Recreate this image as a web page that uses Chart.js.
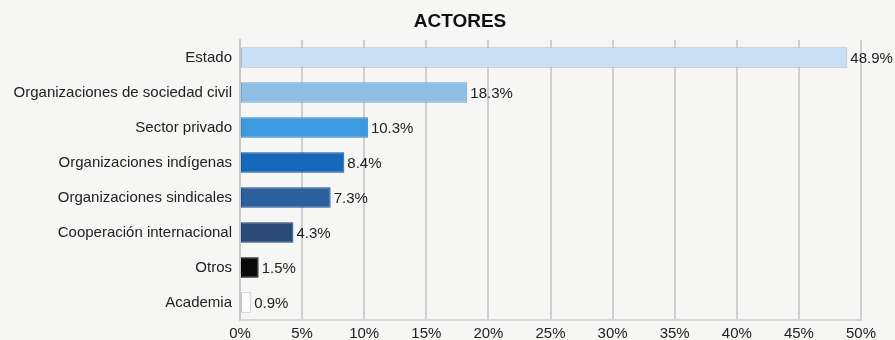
<!DOCTYPE html>
<html>
<head>
<meta charset="utf-8">
<script src="https://cdn.jsdelivr.net/npm/chart.js@4/dist/chart.umd.min.js"></script>
<style>
  html, body { margin: 0; padding: 0; background: #f6f6f5; }
  #wrap { width: 895px; height: 340px; }
</style>
</head>
<body>
<div id="wrap"><canvas id="barChart"></canvas></div>
<script>
  'use strict';

  var actores = ['Estado', 'Organizaciones de sociedad civil', 'Sector privado', 'Organizaciones indígenas',
                 'Organizaciones sindicales', 'Cooperación internacional', 'Otros', 'Academia']
  var porcentajes = [48.9, 18.3, 10.3, 8.4, 7.3, 4.3, 1.5, 0.9]
  var colores = ['#c8dff5', '#8ebde6', '#3c9be0', '#1669b8', '#2c5f9e', '#2a4a78', '#0a0a0a', '#ffffff']
  var bordes  = ['#a9b8c8', '#7aa3c8', '#3584bd', '#125a9c', '#254f84', '#223e64', '#000000', '#c4c4c4']
  var ticksX  = [0, 5, 10, 15, 20, 25, 30, 35, 40, 45, 50]
  var titulo  = 'ACTORES'

  var fontFam = '"Liberation Sans", Arial, sans-serif'

  // etiquetas de valor a la derecha de cada barra + titulo
  var valueLabels = {
    id: 'valueLabels',
    afterDatasetsDraw: function (chart) {
      var ctx = chart.ctx
      var meta = chart.getDatasetMeta(0)
      ctx.save()
      ctx.font = '15px ' + fontFam
      ctx.fillStyle = '#222'
      ctx.textBaseline = 'middle'
      ctx.textAlign = 'left'
      meta.data.forEach(function (bar, i) {
        ctx.fillText(porcentajes[i].toFixed(1) + '%', bar.x + 3, bar.y + 1)
      })
      ctx.font = 'bold 19px ' + fontFam
      ctx.fillStyle = '#111'
      ctx.textAlign = 'center'
      ctx.fillText(titulo, 460, 22)
      ctx.restore()
    }
  }

  Chart.defaults.font.family = fontFam
  Chart.defaults.font.size = 15
  Chart.defaults.color = '#222'

  var ctx = document.getElementById('barChart').getContext('2d')
  new Chart(ctx, {
    type: 'bar',
    data: {
      labels: actores,
      datasets: [{
        data: porcentajes,
        backgroundColor: colores,
        borderColor: bordes,
        borderWidth: 1,
        borderSkipped: false,
        barPercentage: 0.58,
        categoryPercentage: 1
      }]
    },
    options: {
      indexAxis: 'y',
      responsive: true,
      maintainAspectRatio: false,
      animation: false,
      layout: { padding: { left: 0, right: 34, top: 40, bottom: 0 } },
      plugins: {
        legend: { display: false },
        tooltip: { enabled: false },
        title: { display: false }
      },
      scales: {
        x: {
          min: 0,
          max: 50,
          afterBuildTicks: function (axis) {
            axis.ticks = ticksX.map(function (v) { return { value: v } })
          },
          afterFit: function (axis) { axis.height = 20 },
          ticks: {
            callback: function (v) { return v + '%' },
            color: '#222',
            padding: 5,
            maxRotation: 0
          },
          grid: { color: '#cfcfcf', lineWidth: 2, tickLength: 0 },
          border: { color: '#d6d6d6', width: 2 }
        },
        y: {
          afterFit: function (axis) { axis.width = 240 },
          ticks: { color: '#222', padding: 0 },
          grid: { display: false },
          border: { color: '#c8c8c8', width: 2 }
        }
      }
    },
    plugins: [valueLabels]
  })
</script>
</body>
</html>
